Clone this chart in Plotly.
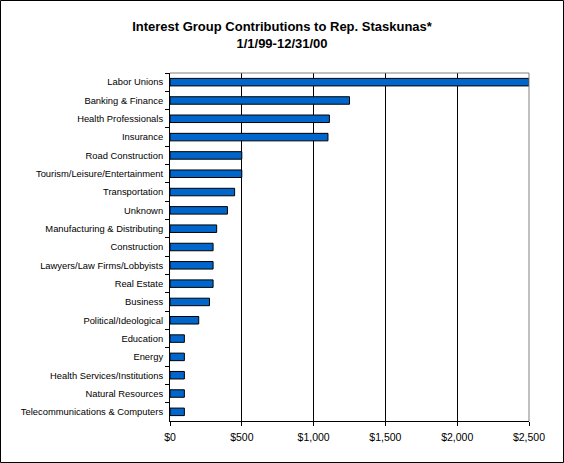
import plotly.graph_objects as go

categories = [
    "Labor Unions", "Banking & Finance", "Health Professionals", "Insurance",
    "Road Construction", "Tourism/Leisure/Entertainment", "Transportation",
    "Unknown", "Manufacturing & Distributing", "Construction",
    "Lawyers/Law Firms/Lobbyists", "Real Estate", "Business",
    "Political/Ideological", "Education", "Energy",
    "Health Services/Institutions", "Natural Resources",
    "Telecommunications & Computers",
]
values = [2500, 1250, 1110, 1100, 500, 500, 450, 400, 325, 300, 300, 300,
          275, 200, 100, 100, 100, 100, 100]

x_ticks = [0, 500, 1000, 1500, 2000, 2500]
x_tick_labels = ["$" + format(v, ",") for v in x_ticks]

W, H = 564, 463
ML, MR, MT, MB = 170, 35, 73, 42
PW, PH = W - ML - MR, H - MT - MB

fig = go.Figure(go.Bar(
    y=categories, x=values, orientation="h",
    marker=dict(color="#0066CC", line=dict(color="black", width=1)),
))

fig.update_layout(
    width=W, height=H,
    margin=dict(l=ML, r=MR, t=MT, b=MB, autoexpand=False),
    paper_bgcolor="white", plot_bgcolor="white",
    font=dict(family="Liberation Sans, Arial, sans-serif", size=10, color="black"),
    bargap=0.59,
    showlegend=False,
    title=dict(
        text="<b>Interest Group Contributions to Rep. Staskunas*<br>1/1/99-12/31/00</b>",
        x=0.5, xanchor="center", y=1 - 31 / H, yanchor="middle",
        font=dict(size=13, family="Liberation Sans, Arial, sans-serif", color="black"),
    ),
    xaxis=dict(
        range=[0, 2500], tickvals=x_ticks, ticktext=x_tick_labels,
        showgrid=True, gridcolor="black", gridwidth=1, zeroline=False,
        showline=True, linecolor="black", linewidth=1,
        ticks="outside", ticklen=4, tickcolor="black",
        tickfont=dict(size=10.5), ticklabelstandoff=2,
    ),
    yaxis=dict(
        categoryorder="array", categoryarray=categories, autorange="reversed",
        tickson="boundaries", ticks="outside", ticklen=4, tickcolor="black",
        showline=True, linecolor="black", linewidth=1, showgrid=False,
        tickfont=dict(size=9.4), ticklabelstandoff=4,
    ),
    shapes=[
        dict(type="line", xref="paper", yref="paper", x0=0, x1=1, y0=1, y1=1,
             line=dict(color="#808080", width=1), layer="above"),
        dict(type="line", xref="paper", yref="paper", x0=1, x1=1, y0=0, y1=1,
             line=dict(color="#808080", width=1), layer="above"),
        dict(type="rect", xref="paper", yref="paper",
             x0=(0.5 - ML) / PW, x1=(W - 0.5 - ML) / PW,
             y0=-(MB - 0.5) / PH, y1=(PH + MT - 0.5) / PH,
             line=dict(color="black", width=1), fillcolor="rgba(0,0,0,0)"),
    ],
)

fig.write_html(
    "out.html",
    config={"displayModeBar": False},
    post_script="document.body.style.margin='0';document.body.style.overflow='hidden';",
)
